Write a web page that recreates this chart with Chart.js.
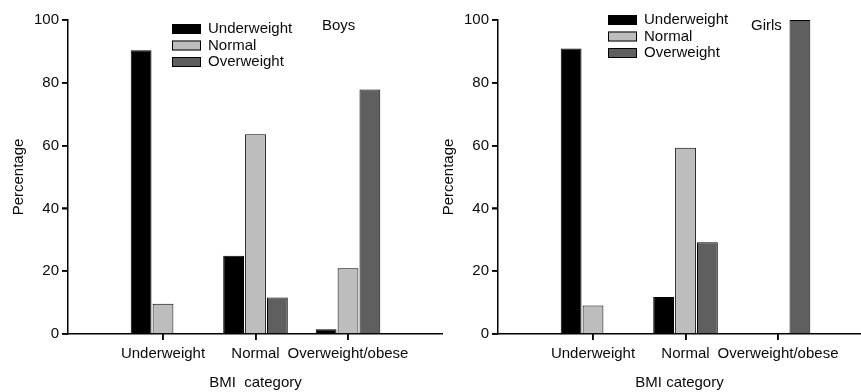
<!DOCTYPE html>
<html>
<head>
<meta charset="utf-8">
<script src="https://cdn.jsdelivr.net/npm/chart.js@4"></script>
<style>
  body { margin: 0; background: #fff; }
  #wrap { position: relative; width: 861px; height: 392px; }
  #boysWrap { position: absolute; left: 0; top: 0; width: 443px; height: 392px; }
  #girlsWrap { position: absolute; left: 430px; top: 0; width: 431px; height: 392px; }
</style>
</head>
<body>
<div id="wrap">
  <div id="boysWrap"><canvas id="boysChart"></canvas></div>
  <div id="girlsWrap"><canvas id="girlsChart"></canvas></div>
</div>
<script>
// data
var categories = ['Underweight', 'Normal', 'Overweight/obese'];
var seriesNames = ['Underweight', 'Normal', 'Overweight'];
var seriesColors = ['#000000', '#bdbdbd', '#5f5f5f'];
var yTicks = [0, 20, 40, 60, 80, 100];

var boysUnder = [90.4, 24.9, 1.5];
var boysNormal = [9.6, 63.6, 20.9];
var boysOver = [0, 11.6, 77.9];

var girlsUnder = [90.9, 11.8, 0];
var girlsNormal = [9.1, 59.3, 0];
var girlsOver = [0, 29.2, 100];

var FONT = { family: '"Liberation Sans", Arial, sans-serif', size: 15 };
var INK = '#0a0a0a';
var TICK = 6;

// legend, panel label and outward tick marks
var boxLegend = {
    id: 'boxLegend',
    afterDraw: function(chart) {
        var o = chart.options.plugins.boxLegend;
        var c = chart.ctx;
        var xs = chart.scales.x, ys = chart.scales.y;
        var base = chart.chartArea.bottom, left = chart.chartArea.left;
        c.save();
        c.strokeStyle = '#000';
        c.lineWidth = 1.5;
        c.beginPath();
        xs.ticks.forEach(function(t) {
            var px = Math.round(xs.getPixelForValue(t.value));
            c.moveTo(px, base);
            c.lineTo(px, base + TICK);
        });
        ys.ticks.forEach(function(t) {
            var py = Math.round(ys.getPixelForValue(t.value));
            c.moveTo(left, py);
            c.lineTo(left - TICK, py);
        });
        c.stroke();

        c.font = FONT.size + 'px ' + FONT.family;
        c.textBaseline = 'middle';
        chart.data.datasets.forEach(function(ds, i) {
            var y = o.y + i * o.step;
            c.fillStyle = ds.backgroundColor;
            c.fillRect(o.x, y - 5, 29, 10);
            c.strokeStyle = '#000';
            c.lineWidth = 1;
            c.strokeRect(o.x + 0.5, y - 4.5, 28, 9);
            c.fillStyle = INK;
            c.fillText(ds.label, o.x + 36, y);
        });
        c.fillText(o.title, o.tx, o.ty);
        c.restore();
    }
};

function makeDatasets(series) {
    return series.map(function(vals, i) {
        return {
            label: seriesNames[i],
            data: vals.map(function(v, j) { return { x: j, y: v }; }),
            backgroundColor: seriesColors[i],
            borderColor: '#000',
            borderWidth: 1,
            categoryPercentage: 0.71,
            barPercentage: 0.95
        };
    });
}

function makeChart(id, series, xMax, xTitle, legendOpts) {
    var ctx = document.getElementById(id);
    return new Chart(ctx, {
        type: 'bar',
        data: { datasets: makeDatasets(series) },
        options: {
            responsive: true,
            maintainAspectRatio: false,
            animation: false,
            layout: { padding: { top: 20, right: 0, bottom: 0, left: 0 } },
            plugins: {
                legend: { display: false },
                tooltip: { enabled: false },
                boxLegend: legendOpts
            },
            scales: {
                x: {
                    type: 'linear',
                    offset: false,
                    min: -1.027,
                    max: xMax,
                    afterBuildTicks: function(s) {
                        s.ticks = categories.map(function(c, i) { return { value: i }; });
                    },
                    afterFit: function(s) { s.height = 58; },
                    ticks: {
                        autoSkip: false,
                        maxRotation: 0,
                        padding: 5,
                        color: INK,
                        font: FONT,
                        callback: function(v, i) { return categories[i]; }
                    },
                    grid: { offset: false, drawOnChartArea: false, tickLength: TICK, color: '#000', lineWidth: 1.5 },
                    border: { color: '#000', width: 1.5 },
                    title: { display: true, text: xTitle, color: INK, font: FONT, padding: { top: 0, bottom: 0 } }
                },
                y: {
                    min: 0,
                    max: 100,
                    afterBuildTicks: function(s) {
                        s.ticks = yTicks.map(function(v) { return { value: v }; });
                    },
                    afterFit: function(s) { s.width = 68; },
                    ticks: { padding: 3, color: INK, font: FONT },
                    grid: { drawOnChartArea: false, tickLength: TICK, color: '#000', lineWidth: 1.5 },
                    border: { color: '#000', width: 1.5 },
                    title: { display: true, text: 'Percentage', color: INK, font: FONT, padding: { top: 10, bottom: 0 } }
                }
            }
        },
        plugins: [boxLegend]
    });
}

makeChart('boysChart', [boysUnder, boysNormal, boysOver], 3.027, 'BMI  category',
    { x: 172, y: 29, step: 16.5, title: 'Boys', tx: 322, ty: 26 });
makeChart('girlsChart', [girlsUnder, girlsNormal, girlsOver], 2.897, 'BMI category',
    { x: 178, y: 20, step: 16.5, title: 'Girls', tx: 321, ty: 26 });
</script>
</body>
</html>
